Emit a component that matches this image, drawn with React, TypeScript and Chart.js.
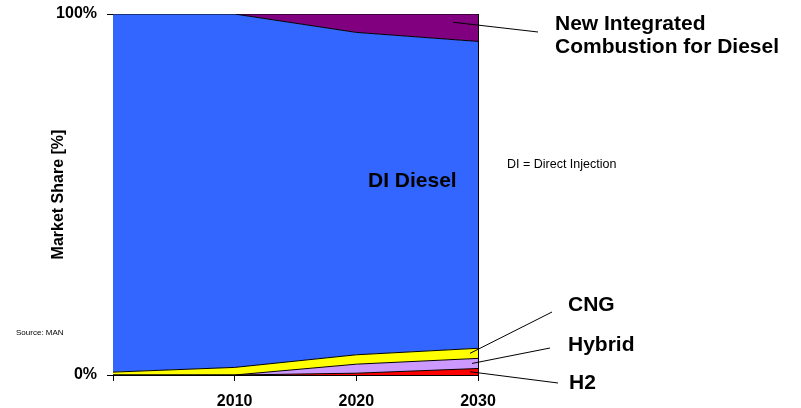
import React, { useEffect, useRef } from "react";
import { Chart, registerables } from "chart.js";

Chart.register(...registerables);

const categories = ["", "2010", "2020", "2030"];
const h2 = [0, 0, 0.5, 1.8];
const hybrid = [0, 0, 2.5, 2.8];
const cng = [0.8, 2.1, 2.6, 2.8];
const diDiesel = [99.2, 97.9, 89.3, 85.0];
const newIntegrated = [0, 0, 5.1, 7.6];
const yTickValues = [0, 100];

const FONT = '"Liberation Sans", Arial, sans-serif';

const annotationPlugin = {
  id: "annotations",
  afterDatasetsDraw(chart: any) {
    const ctx = chart.ctx;
    const xs = chart.scales.x;
    const ys = chart.scales.y;
    const x30 = xs.getPixelForValue(3);
    const i = 3;
    const h2Top = h2[i];
    const hyTop = h2Top + hybrid[i];
    const cngTop = hyTop + cng[i];
    const leaders = [
      { sx: x30 - 25, sy: ys.getPixelForValue(100 - newIntegrated[i] * 0.3), ex: 538, ey: 32 },
      { sx: x30 - 8, sy: ys.getPixelForValue((hyTop + cngTop) / 2), ex: 552, ey: 312 },
      { sx: x30 - 6, sy: ys.getPixelForValue((h2Top + hyTop) / 2), ex: 550, ey: 348 },
      { sx: x30 - 8, sy: ys.getPixelForValue(h2Top / 2), ex: 558, ey: 383 },
    ];
    ctx.save();
    ctx.strokeStyle = "#000";
    ctx.lineWidth = 1;
    leaders.forEach((l) => {
      ctx.beginPath();
      ctx.moveTo(l.sx, l.sy);
      ctx.lineTo(l.ex, l.ey);
      ctx.stroke();
    });
    ctx.fillStyle = "#000";
    ctx.textBaseline = "middle";
    ctx.textAlign = "left";
    ctx.font = `bold 21px ${FONT}`;
    ctx.fillText("New Integrated", 555, 24);
    ctx.fillText("Combustion for Diesel", 555, 47);
    ctx.fillText("DI Diesel", 368, 181);
    ctx.fillText("CNG", 568, 305);
    ctx.fillText("Hybrid", 568, 345);
    ctx.fillText("H2", 569, 383);
    ctx.font = `12.5px ${FONT}`;
    ctx.fillText("DI = Direct Injection", 507, 165);
    ctx.font = `8px ${FONT}`;
    ctx.fillText("Source: MAN", 16, 333);
    ctx.restore();
  },
};

export default function App() {
  const ref = useRef<HTMLCanvasElement>(null);
  useEffect(() => {
    if (!ref.current) return;
    const mk = (label: string, data: number[], color: string, fill: any) => ({
      label,
      data,
      backgroundColor: color,
      borderColor: "#000",
      borderWidth: 1,
      pointRadius: 0,
      tension: 0,
      fill,
    });
    const chart = new Chart(ref.current, {
      type: "line",
      data: {
        labels: categories,
        datasets: [
          mk("H2", h2, "#FF0000", "origin"),
          mk("Hybrid", hybrid, "#CC99FF", "-1"),
          mk("CNG", cng, "#FFFF00", "-1"),
          mk("DI Diesel", diDiesel, "#3366FF", "-1"),
          mk("New Integrated Combustion for Diesel", newIntegrated, "#800080", "-1"),
        ],
      },
      options: {
        responsive: false,
        animation: false,
        layout: { padding: { top: 14, right: 323, left: 0, bottom: 0 } },
        plugins: { legend: { display: false }, tooltip: { enabled: false } },
        scales: {
          x: {
            offset: false,
            afterFit: (s: any) => { s.height = 33; },
            grid: {
              drawOnChartArea: true,
              color: (c: any) => (c.index === 3 ? "#000" : "rgba(0,0,0,0)"),
              tickColor: "#000",
              tickLength: 6,
            },
            border: { display: true, color: "#000", width: 1 },
            ticks: {
              color: "#000",
              font: { family: FONT, size: 16, weight: "bold" },
              padding: 11,
              maxRotation: 0,
              autoSkip: false,
            },
          },
          y: {
            stacked: true,
            min: 0,
            max: 100,
            afterFit: (s: any) => { s.width = 113; s.paddingTop = 0; s.paddingBottom = 0; },
            afterBuildTicks: (s: any) => { s.ticks = yTickValues.map((v) => ({ value: v })); },
            grid: { drawOnChartArea: false, tickColor: "#000", tickLength: 6 },
            border: { display: true, color: "#000", width: 1 },
            ticks: {
              color: "#000",
              font: { family: FONT, size: 16, weight: "bold" },
              padding: 10,
              callback: (v: any) => `${v}%`,
            },
            title: {
              display: true,
              text: "Market Share [%]",
              color: "#000",
              font: { family: FONT, size: 16, weight: "bold" },
              padding: { top: 49, bottom: 0 },
            },
          },
        },
      },
      plugins: [annotationPlugin],
    } as any);
    return () => chart.destroy();
  }, []);
  return (
    <div style={{ position: "fixed", left: 0, top: 0, width: 801, height: 408, background: "#fff" }}>
      <canvas ref={ref} width={801} height={408} style={{ width: 801, height: 408 }} />
    </div>
  );
}
